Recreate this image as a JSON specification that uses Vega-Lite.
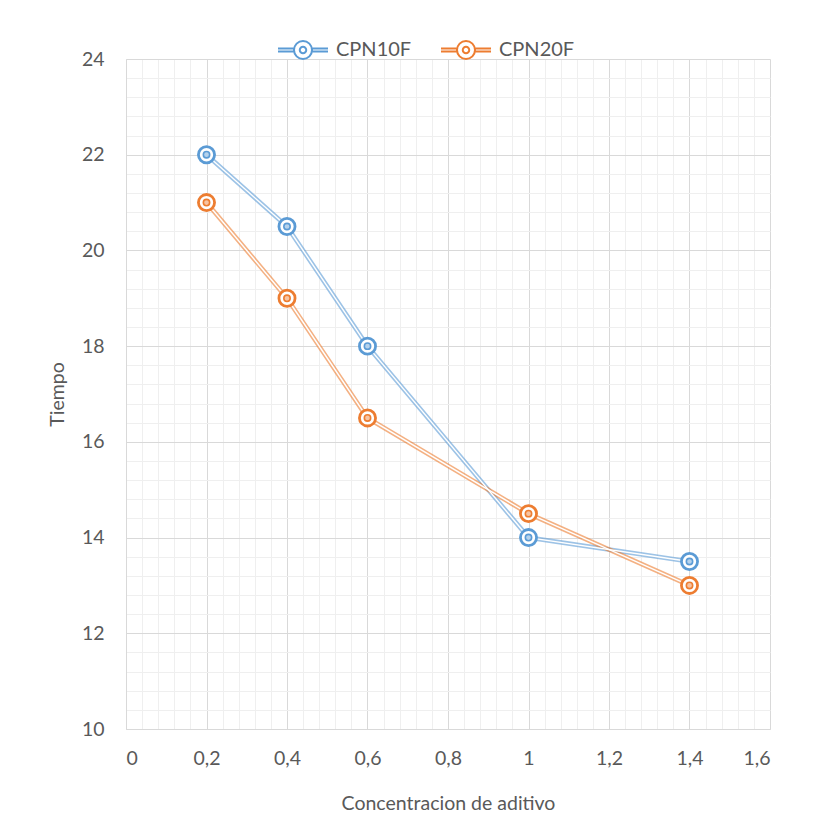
{
  "$schema": "https://vega.github.io/schema/vega-lite/v6.json",
  "autosize": "none",
  "width": 644,
  "height": 670,
  "padding": {"left": 126, "top": 59, "right": 48, "bottom": 99},
  "background": "white",
  "data": {"values": [
    {"conc": 0.2, "tiempo": 22, "serie": "CPN10F"},
    {"conc": 0.4, "tiempo": 20.5, "serie": "CPN10F"},
    {"conc": 0.6, "tiempo": 18, "serie": "CPN10F"},
    {"conc": 1.0, "tiempo": 14, "serie": "CPN10F"},
    {"conc": 1.4, "tiempo": 13.5, "serie": "CPN10F"},
    {"conc": 0.2, "tiempo": 21, "serie": "CPN20F"},
    {"conc": 0.4, "tiempo": 19, "serie": "CPN20F"},
    {"conc": 0.6, "tiempo": 16.5, "serie": "CPN20F"},
    {"conc": 1.0, "tiempo": 14.5, "serie": "CPN20F"},
    {"conc": 1.4, "tiempo": 13, "serie": "CPN20F"}
  ]},
  "config": {
    "view": {"stroke": null},
    "axis": {"labelFont": "Lato", "titleFont": "Lato", "labelColor": "#595959", "titleColor": "#595959", "labelFontSize": 19.5, "titleFontSize": 19.5, "titleFontWeight": "normal"},
    "legend": {"labelFont": "Lato", "labelFontSize": 20, "labelColor": "#595959"}
  },
  "resolve": {"axis": {"x": "independent", "y": "independent"}},
  "layer": [
    {
      "mark": {"type": "line", "strokeWidth": 4.6, "strokeOpacity": 0.6},
      "encoding": {
        "x": {"field": "conc", "type": "quantitative", "scale": {"domain": [0, 1.6], "nice": false, "zero": false},
          "axis": {"orient": "bottom", "values": [0,0.04,0.08,0.12,0.16,0.2,0.24,0.28,0.32,0.36,0.4,0.44,0.48,0.52,0.56,0.6,0.64,0.68,0.72,0.76,0.8,0.84,0.88,0.92,0.96,1,1.04,1.08,1.12,1.16,1.2,1.24,1.28,1.32,1.36,1.4,1.44,1.48,1.52,1.56,1.6],
            "labels": false, "ticks": false, "domain": false, "title": null, "grid": true, "gridColor": "#efefef", "gridWidth": 1}},
        "y": {"field": "tiempo", "type": "quantitative", "scale": {"domain": [10, 24], "nice": false, "zero": false},
          "axis": {"orient": "left", "values": [10,10.4,10.8,11.2,11.6,12,12.4,12.8,13.2,13.6,14,14.4,14.8,15.2,15.6,16,16.4,16.8,17.2,17.6,18,18.4,18.8,19.2,19.6,20,20.4,20.8,21.2,21.6,22,22.4,22.8,23.2,23.6,24],
            "labels": false, "ticks": false, "domain": false, "title": null, "grid": true, "gridColor": "#efefef", "gridWidth": 1}},
        "stroke": {"field": "serie", "type": "nominal", "scale": {"domain": ["CPN10F", "CPN20F"], "range": ["#5B9BD5", "#ED7D31"]},
          "legend": {"orient": "none", "legendX": 151, "legendY": -35, "direction": "horizontal", "title": null,
            "symbolType": "M-1,-0.06H-0.36M0.36,-0.06H1M-1,0.06H-0.36M0.36,0.06H1M0.36,0A0.36,0.36 0 1,1 -0.36,0A0.36,0.36 0 1,1 0.36,0M0.13,0A0.13,0.13 0 1,1 -0.13,0A0.13,0.13 0 1,1 0.13,0",
            "symbolSize": 2500, "symbolStrokeWidth": 2, "symbolFillColor": "transparent", "symbolOpacity": 1, "labelOffset": 7, "columnPadding": 25,
            "encode": {"symbols": {"update": {"fill": {"value": "transparent"}, "fillOpacity": {"value": 0}}}}}}
      }
    },
    {
      "mark": {"type": "line", "strokeWidth": 1.4, "stroke": "white"},
      "encoding": {
        "x": {"field": "conc", "type": "quantitative", "axis": null},
        "y": {"field": "tiempo", "type": "quantitative", "axis": null},
        "detail": {"field": "serie", "type": "nominal"}
      }
    },
    {
      "mark": {"type": "point", "shape": "circle", "size": 260, "strokeWidth": 2.8, "fill": "white", "filled": false, "opacity": 1, "fillOpacity": 1},
      "encoding": {
        "x": {"field": "conc", "type": "quantitative",
          "axis": {"orient": "bottom", "values": [0,0.2,0.4,0.6,0.8,1,1.2,1.4,1.6], "labelExpr": "replace(format(datum.value, '~g'), '.', ',')",
            "ticks": false, "domain": true, "domainColor": "#d9d9d9", "grid": true, "gridColor": "#d9d9d9", "labelPadding": 20, "title": "Concentracion de aditivo", "titlePadding": 27}},
        "y": {"field": "tiempo", "type": "quantitative",
          "axis": {"orient": "left", "values": [10,12,14,16,18,20,22,24],
            "ticks": false, "domain": true, "domainColor": "#d9d9d9", "grid": true, "gridColor": "#d9d9d9", "labelPadding": 22, "title": "Tiempo", "titlePadding": 14}},
        "stroke": {"field": "serie", "type": "nominal",
          "legend": {"orient": "none", "legendX": 151, "legendY": -35, "direction": "horizontal", "title": null,
            "symbolType": "M-1,-0.06H-0.36M0.36,-0.06H1M-1,0.06H-0.36M0.36,0.06H1M0.36,0A0.36,0.36 0 1,1 -0.36,0A0.36,0.36 0 1,1 0.36,0M0.13,0A0.13,0.13 0 1,1 -0.13,0A0.13,0.13 0 1,1 0.13,0",
            "symbolSize": 2500, "symbolStrokeWidth": 2, "symbolFillColor": "transparent", "symbolOpacity": 1, "labelOffset": 7, "columnPadding": 25,
            "encode": {"symbols": {"update": {"fill": {"value": "transparent"}, "fillOpacity": {"value": 0}}}}}}
      }
    },
    {
      "mark": {"type": "point", "shape": "circle", "size": 40, "strokeWidth": 1.6, "filled": false, "fillOpacity": 0.45, "opacity": 1},
      "encoding": {
        "x": {"field": "conc", "type": "quantitative", "axis": null},
        "y": {"field": "tiempo", "type": "quantitative", "axis": null},
        "stroke": {"field": "serie", "type": "nominal",
          "legend": {"orient": "none", "legendX": 151, "legendY": -35, "direction": "horizontal", "title": null,
            "symbolType": "M-1,-0.06H-0.36M0.36,-0.06H1M-1,0.06H-0.36M0.36,0.06H1M0.36,0A0.36,0.36 0 1,1 -0.36,0A0.36,0.36 0 1,1 0.36,0M0.13,0A0.13,0.13 0 1,1 -0.13,0A0.13,0.13 0 1,1 0.13,0",
            "symbolSize": 2500, "symbolStrokeWidth": 2, "symbolFillColor": "transparent", "symbolOpacity": 1, "labelOffset": 7, "columnPadding": 25,
            "encode": {"symbols": {"update": {"fill": {"value": "transparent"}, "fillOpacity": {"value": 0}}}}}},
        "fill": {"field": "serie", "type": "nominal", "scale": {"domain": ["CPN10F", "CPN20F"], "range": ["#5B9BD5", "#ED7D31"]}, "legend": null}
      }
    }
  ]
}
